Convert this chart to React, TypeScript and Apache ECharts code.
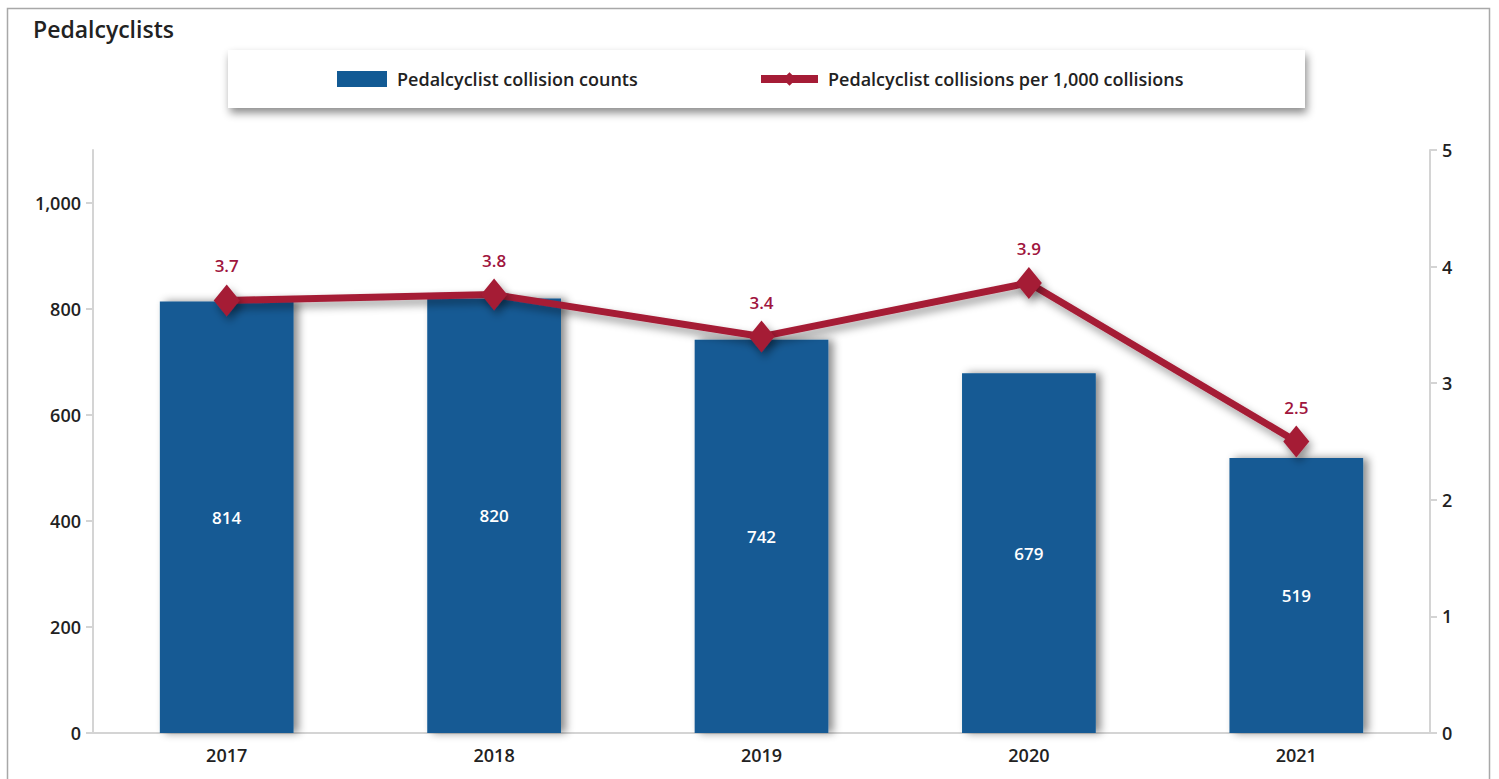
import React, { useEffect, useRef } from "react";
import * as echarts from "echarts";

const years = ["2017", "2018", "2019", "2020", "2021"];
const collisionCounts = [814, 820, 742, 679, 519];
const perThousand = [3.71, 3.76, 3.4, 3.86, 2.5];
const leftTicks = [0, 200, 400, 600, 800, 1000];

const FONT = "'Open Sans', sans-serif";
const BLUE = "#125a94";
const RED = "#a51c36";
const BAR_NAME = "Pedalcyclist collision counts";
const LINE_NAME = "Pedalcyclist collisions per 1,000 collisions";

export default function App() {
  const ref = useRef<HTMLDivElement>(null);
  useEffect(() => {
    const chart = echarts.init(ref.current!, null, { renderer: "svg" });
    const legendText = {
      fontSize: 18,
      color: "#222",
      fontWeight: 600,
      fontFamily: FONT,
      padding: [0, 0, 0, 5],
    };
    const axisText = { fontSize: 18, fontWeight: 600, color: "#222", fontFamily: FONT };
    chart.setOption({
      animation: false,
      backgroundColor: "#ffffff",
      textStyle: { fontFamily: FONT },
      title: {
        text: "Pedalcyclists",
        left: 28,
        top: 12,
        textStyle: { fontSize: 23, fontWeight: 600, color: "#222", fontFamily: FONT },
      },
      graphic: [
        {
          type: "rect",
          left: 5,
          top: 6,
          shape: { x: 0, y: 0, width: 1482, height: 800 },
          style: { fill: "none", stroke: "#a8a8a8", lineWidth: 1.5 },
          silent: true,
          z: -10,
        },
        {
          type: "rect",
          shape: { x: 228, y: 50, width: 1077, height: 58 },
          style: {
            fill: "#ffffff",
            shadowBlur: 8,
            shadowOffsetX: 2,
            shadowOffsetY: 5,
            shadowColor: "rgba(0,0,0,0.45)",
          },
          silent: true,
          z: -5,
        },
      ],
      legend: [
        {
          left: 332,
          top: 65,
          itemWidth: 50,
          itemHeight: 16,
          textStyle: legendText,
          data: [{ name: BAR_NAME, icon: "rect" }],
        },
        {
          left: 752,
          top: 65,
          itemWidth: 57,
          itemHeight: 17,
          textStyle: legendText,
          data: [
            {
              name: LINE_NAME,
              lineStyle: { width: 8, color: RED, shadowBlur: 0 },
              itemStyle: { color: RED, shadowBlur: 0 },
            },
          ],
        },
      ],
      grid: { left: 93, right: 69, top: 150, bottom: 46, containLabel: false },
      xAxis: {
        type: "category",
        data: years,
        axisLine: { lineStyle: { color: "#d4d4d4", width: 2 } },
        axisTick: { show: false },
        axisLabel: { ...axisText, margin: 13 },
      },
      yAxis: [
        {
          type: "value",
          min: 0,
          max: 1100,
          interval: 100,
          position: "left",
          axisLine: { show: true, lineStyle: { color: "#d4d4d4", width: 2 } },
          axisTick: { show: true, length: 7, customValues: leftTicks, lineStyle: { color: "#d4d4d4", width: 2 } },
          axisLabel: {
            ...axisText,
            customValues: leftTicks,
            margin: 12,
            formatter: (v: number) => v.toLocaleString("en-US"),
          },
          splitLine: { show: false },
        },
        {
          type: "value",
          min: 0,
          max: 5,
          interval: 1,
          position: "right",
          axisLine: { show: true, lineStyle: { color: "#d4d4d4", width: 2 } },
          axisTick: { show: true, length: 7, lineStyle: { color: "#d4d4d4", width: 2 } },
          axisLabel: { ...axisText, margin: 12 },
          splitLine: { show: false },
        },
      ],
      series: [
        {
          name: BAR_NAME,
          type: "bar",
          data: collisionCounts,
          barWidth: "50%",
          yAxisIndex: 0,
          itemStyle: {
            color: BLUE,
            shadowBlur: 8,
            shadowOffsetX: 5,
            shadowOffsetY: 0,
            shadowColor: "rgba(0,0,0,0.45)",
          },
          label: {
            show: true,
            position: "inside",
            color: "#fff",
            fontSize: 17,
            fontWeight: 600,
            fontFamily: FONT,
          },
          z: 2,
        },
        {
          name: LINE_NAME,
          type: "line",
          data: perThousand,
          yAxisIndex: 1,
          symbol: "diamond",
          symbolSize: [26, 32],
          lineStyle: {
            color: RED,
            width: 7,
            shadowBlur: 8,
            shadowOffsetX: 3,
            shadowOffsetY: 5,
            shadowColor: "rgba(0,0,0,0.4)",
          },
          itemStyle: {
            color: RED,
            shadowBlur: 8,
            shadowOffsetX: 3,
            shadowOffsetY: 5,
            shadowColor: "rgba(0,0,0,0.4)",
          },
          label: {
            show: true,
            position: "top",
            distance: 10,
            color: "#a0153e",
            fontSize: 17,
            fontWeight: 600,
            fontFamily: FONT,
            formatter: (p: any) => Number(p.value).toFixed(1),
          },
          z: 5,
        },
      ],
    });
    return () => chart.dispose();
  }, []);
  return (
    <div
      ref={ref}
      style={{ position: "fixed", left: 0, top: 0, width: 1499, height: 779 }}
    />
  );
}
